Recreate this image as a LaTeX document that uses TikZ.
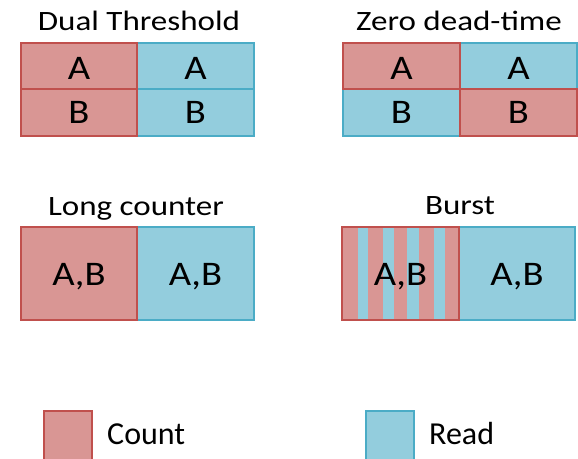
\documentclass[tikz,border=0pt]{standalone}
\usepackage{fontspec}
\setmainfont{Carlito}
\newfontfamily\titlefont[FakeStretch=1.18]{Carlito}
\newfontfamily\cellfont[FakeStretch=1.12]{Carlito}
\definecolor{cntfill}{HTML}{D99694}
\definecolor{cntline}{HTML}{C0504D}
\definecolor{rdfill}{HTML}{93CDDD}
\definecolor{rdline}{HTML}{4BACC6}
\begin{document}
\begin{tikzpicture}[x=1pt,y=-1pt,
  count/.style={fill=cntfill, draw=cntline, line width=2pt},
  read/.style={fill=rdfill, draw=rdline, line width=2pt},
  stripe/.style={fill=rdfill},
  title/.style={font=\titlefont\fontsize{28}{30}\selectfont, anchor=base, inner sep=0pt},
  big/.style={font=\cellfont\fontsize{34.5}{36}\selectfont, anchor=base, inner sep=0pt},
  legend/.style={font=\fontsize{32}{36}\selectfont, anchor=base west, inner sep=0pt}]
\clip (0,0) rectangle (578,458);
% Dual Threshold
\node[title] (t1) at (139,30) {Dual Threshold};
\draw[read] (137,43) rectangle (254,89);
\draw[read] (137,89) rectangle (254,136);
\draw[count] (21,43) rectangle (137,89);
\draw[count] (21,89) rectangle (137,136);
\node[big] (d1) at (79,79) {A};
\node[big] (d2) at (195.5,79) {A};
\node[big] (d3) at (79,123) {B};
\node[big] (d4) at (195.5,123) {B};
% Zero dead-time
\node[title] (t2) at (459,30) {Zero dead-time};
\draw[read] (460,43) rectangle (577,89);
\draw[read] (343,89) rectangle (460,136);
\draw[count] (343,43) rectangle (460,89);
\draw[count] (460,89) rectangle (577,136);
\node[big] (z1) at (401.5,79) {A};
\node[big] (z2) at (518.5,79) {A};
\node[big] (z3) at (401.5,123) {B};
\node[big] (z4) at (518.5,123) {B};
% Long counter
\node[title] (t3) at (136,215) {Long counter};
\draw[read] (137,227) rectangle (254,320);
\draw[count] (21,227) rectangle (137,320);
\node[big] (l1) at (79,285) {A,B};
\node[big] (l2) at (195.5,285) {A,B};
% Burst
\node[title] (t4) at (460,214) {Burst};
\draw[read] (459,227) rectangle (575,320);
\fill[cntfill] (342,227) rectangle (459,320);
\fill[stripe] (358,227) rectangle (368,320);
\fill[stripe] (383,227) rectangle (394,320);
\fill[stripe] (407,227) rectangle (419,320);
\fill[stripe] (434,227) rectangle (445,320);
\draw[cntline, line width=2pt] (342,227) rectangle (459,320);
\node[big] (b1) at (400.5,285) {A,B};
\node[big] (b2) at (517,285) {A,B};
% Legend
\draw[count] (44,411) rectangle (92,462);
\node[legend] (lc) at (107,444) {Count};
\draw[read] (366,411) rectangle (414,462);
\node[legend] (lr) at (429,444) {Read};
\end{tikzpicture}
\end{document}
